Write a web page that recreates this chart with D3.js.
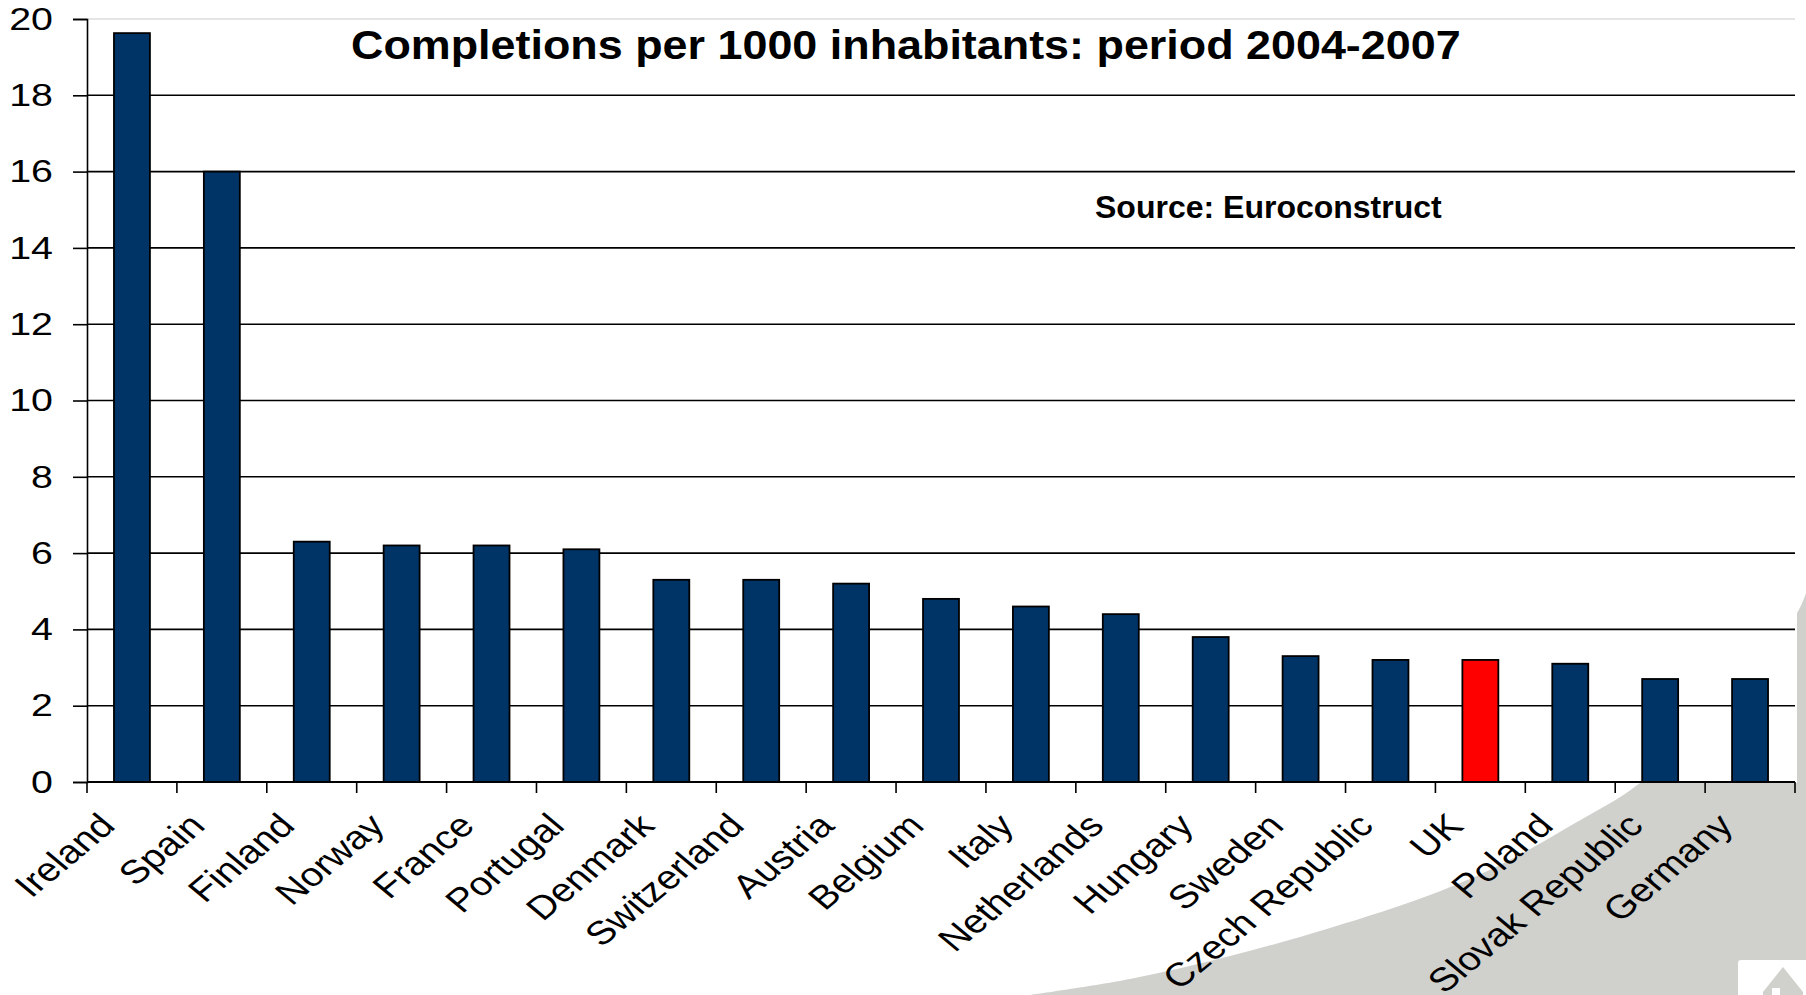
<!DOCTYPE html>
<html>
<head>
<meta charset="utf-8">
<script src="https://d3js.org/d3.v7.min.js"></script>
<style>
  html, body { margin: 0; padding: 0; background: #fff; }
  svg { display: block; }
  text { font-family: "Liberation Sans", Arial, sans-serif; fill: #000; }
</style>
</head>
<body>
<svg id="chart" width="1806" height="995"></svg>
<script>
const countries = ["Ireland","Spain","Finland","Norway","France","Portugal","Denmark","Switzerland","Austria","Belgium","Italy","Netherlands","Hungary","Sweden","Czech Republic","UK","Poland","Slovak Republic","Germany"];
const completions = [19.63,16,6.3,6.2,6.2,6.1,5.3,5.3,5.2,4.8,4.6,4.4,3.8,3.3,3.2,3.2,3.1,2.7,2.7];
const highlighted = ["UK"];
const yTicks = [0,2,4,6,8,10,12,14,16,18,20];
const titleText = "Completions per 1000 inhabitants: period 2004-2007";
const sourceText = "Source: Euroconstruct";

const svg = d3.select("#chart");
const plot = { left: 87, right: 1795, top: 19, bottom: 782 };

// Slide backdrop: grey swoosh in the lower right corner
const swoosh = d3.line().curve(d3.curveCatmullRom);
svg.append("path")
  .attr("d", swoosh([[1030,995],[1130,979],[1230,956],[1330,928],[1430,895],[1500,865],[1570,826],[1640,783],[1720,705],[1797,613],[1806,593]]) + "L1806,995Z")
  .attr("fill", "#d0d1cd");

// White plot panel sits over the swoosh
svg.append("rect").attr("x", 0).attr("y", 0).attr("width", 1797).attr("height", 783).attr("fill", "#fff");

// Logo tile with its small house
svg.append("rect").attr("x", 1738).attr("y", 960).attr("width", 72).attr("height", 40).attr("rx", 3).attr("fill", "#fff");
svg.append("path").attr("d", "M1763,992L1783,967L1803,992V995H1763Z").attr("fill", "#d0d1cd");
svg.append("rect").attr("x", 1772).attr("y", 988).attr("width", 8).attr("height", 7).attr("fill", "#fff");

const x = d3.scaleBand().domain(countries).range([plot.left, plot.right]).paddingInner(0.6).paddingOuter(0.3);
const y = d3.scaleLinear().domain([0, 20]).range([plot.bottom, plot.top]);

// Faint top rule, then the horizontal gridlines
svg.append("line").attr("x1", plot.left).attr("x2", plot.right).attr("y1", y(20)).attr("y2", y(20)).attr("stroke", "#ddd").attr("stroke-width", 1.5);
svg.append("g").selectAll("line").data(yTicks.filter(d => d > 0 && d < 20)).join("line")
  .attr("x1", plot.left).attr("x2", plot.right).attr("y1", d => y(d)).attr("y2", d => y(d))
  .attr("stroke", "#000").attr("stroke-width", 1.6);

// Bars
svg.append("g").selectAll("rect").data(countries).join("rect")
  .attr("x", d => x(d)).attr("width", x.bandwidth())
  .attr("y", (d, i) => y(completions[i])).attr("height", (d, i) => y(0) - y(completions[i]))
  .attr("fill", d => highlighted.includes(d) ? "#ff0000" : "#003366")
  .attr("stroke", "#000").attr("stroke-width", 1.8);

// Value axis; its labels are set wide, like the rest of the slide's text
const yAxis = svg.append("g").attr("transform", `translate(${plot.left},0)`)
  .call(d3.axisLeft(y).tickValues(yTicks).tickSize(14).tickFormat(d3.format("d")));
yAxis.selectAll("line").attr("stroke", "#000").attr("stroke-width", 1.6);
yAxis.select(".domain").attr("stroke", "#000").attr("stroke-width", 1.6);
yAxis.selectAll("text")
  .attr("x", 0)
  .attr("transform", "translate(-34,0) scale(1.23,1)")
  .attr("font-size", 32)
  .style("font-family", '"Liberation Sans", Arial, sans-serif');

// Category axis: ticks fall on the band edges
const step = x.step();
const edges = d3.range(countries.length + 1).map(i => plot.left + i * step);
svg.append("line").attr("x1", plot.left).attr("x2", plot.right).attr("y1", plot.bottom).attr("y2", plot.bottom).attr("stroke", "#000").attr("stroke-width", 1.8);
svg.append("g").selectAll("line").data(edges).join("line")
  .attr("x1", d => d).attr("x2", d => d).attr("y1", plot.bottom).attr("y2", plot.bottom + 11)
  .attr("stroke", "#000").attr("stroke-width", 1.6);

svg.append("g").selectAll("text").data(countries).join("text")
  .attr("text-anchor", "end")
  .attr("font-size", 33)
  .attr("transform", d => `translate(${x(d) + x.bandwidth() / 2 - 35},${plot.bottom + 29}) scale(1.2,1) rotate(-45)`)
  .attr("dy", "0.71em")
  .text(d => d);

// Captions
svg.append("text").attr("transform", "translate(351,59) scale(1.122,1)")
  .attr("font-size", 40).attr("font-weight", "bold").text(titleText);
svg.append("text").attr("x", 1095).attr("y", 218)
  .attr("font-size", 32).attr("font-weight", "bold").text(sourceText);
</script>
</body>
</html>
